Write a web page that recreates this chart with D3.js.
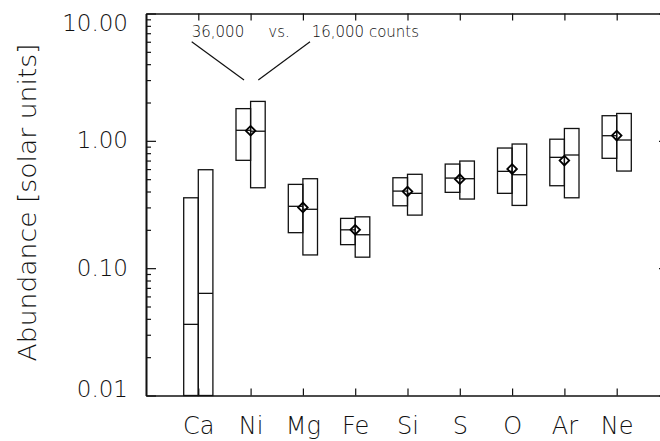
<!DOCTYPE html>
<html>
<head>
<meta charset="utf-8">
<script src="https://cdn.jsdelivr.net/npm/d3@7"></script>
<style>
  html, body { margin: 0; padding: 0; background: #fff; }
  svg { display: block; }
  text { font-family: "DejaVu Sans", sans-serif; fill: #111; }
</style>
</head>
<body>
<svg id="chart" width="660" height="441"></svg>
<script>
// ---- data ----
const categories = ["Ca", "Ni", "Mg", "Fe", "Si", "S", "O", "Ar", "Ne"];
// 36,000 counts (left boxes)
const hiCountLow  = [0.01,   0.703, 0.190, 0.153, 0.309, 0.394, 0.387, 0.444, 0.729];
const hiCountMed  = [0.0362, 1.21,  0.306, 0.200, 0.403, 0.510, 0.576, 0.742, 1.097];
const hiCountHigh = [0.357,  1.79,  0.455, 0.246, 0.513, 0.657, 0.878, 1.03,  1.575];
// 16,000 counts (right boxes)
const loCountLow  = [0.01,   0.428, 0.127, 0.122, 0.261, 0.349, 0.311, 0.357, 0.579];
const loCountMed  = [0.0634, 1.19,  0.290, 0.183, 0.387, 0.504, 0.542, 0.774, 1.015];
const loCountHigh = [0.593,  2.04,  0.504, 0.253, 0.546, 0.694, 0.944, 1.25,  1.64];
// true (input) abundances, diamonds
const trueValue = [null, 1.2, 0.30, 0.20, 0.40, 0.50, 0.60, 0.70, 1.10];
// axis ticks
const yMajorTicks = [0.01, 0.1, 1, 10];
const yMinorTicks = [0.02,0.03,0.04,0.05,0.06,0.07,0.08,0.09,
                     0.2,0.3,0.4,0.5,0.6,0.7,0.8,0.9,
                     2,3,4,5,6,7,8,9];
const yTitle = "Abundance [solar units]";
// annotation (data coordinates: x in category units, y in abundance)
const annoTexts = [
  {label: "36,000", x: 0.874, y: 6.54},
  {label: "vs.", x: 2.338, y: 6.54},
  {label: "16,000 counts", x: 3.168, y: 6.54}
];
const annoLines = [
  {x1: 0.874, y1: 6.0, x2: 1.874, y2: 3.0},
  {x1: 3.136, y1: 6.0, x2: 2.147, y2: 3.0}
];

// ---- layout ----
const L = 146, R = 669, T = 13.5, B = 395.5;
const svg = d3.select("#chart");
const x = d3.scaleLinear().domain([0, 10]).range([L, R]);
const y = d3.scaleLog().domain([0.01, 10]).range([B, T]);
const boxW = 14.6;
const axisColor = "#111";

const idx = d3.range(1, categories.length + 1);

// ---- axes ----
function styleAxis(g) {
  g.select(".domain").attr("stroke", axisColor).attr("stroke-width", 1.6);
  g.selectAll(".tick line").attr("stroke", axisColor).attr("stroke-width", 1.2);
}

// left major
const gLeft = svg.append("g").attr("transform", `translate(${L},0)`)
  .call(d3.axisLeft(y).tickValues(yMajorTicks).tickFormat(d3.format(".2f"))
    .tickSizeInner(-10).tickSizeOuter(0).tickPadding(18))
  .call(styleAxis);
gLeft.selectAll(".tick text")
  .attr("font-size", 23).attr("font-family", "DejaVu Sans").attr("fill", "#222")
  .attr("font-weight", 200)
  .attr("dy", (d) => d === 10 ? "0.72em" : (d === 0.01 ? "0.05em" : "0.30em"));
// left minor
svg.append("g").attr("transform", `translate(${L},0)`)
  .call(d3.axisLeft(y).tickValues(yMinorTicks).tickFormat("")
    .tickSizeInner(-5).tickSizeOuter(0))
  .call(styleAxis);
// right major/minor
svg.append("g").attr("transform", `translate(${R},0)`)
  .call(d3.axisRight(y).tickValues(yMajorTicks).tickFormat("")
    .tickSizeInner(-10).tickSizeOuter(0))
  .call(styleAxis);
svg.append("g").attr("transform", `translate(${R},0)`)
  .call(d3.axisRight(y).tickValues(yMinorTicks).tickFormat("")
    .tickSizeInner(-5).tickSizeOuter(0))
  .call(styleAxis);
// top
svg.append("g").attr("transform", `translate(0,${T})`)
  .call(d3.axisTop(x).tickValues(idx).tickFormat("")
    .tickSizeInner(-7).tickSizeOuter(0))
  .call(styleAxis);
// bottom
const gBottom = svg.append("g").attr("transform", `translate(0,${B})`)
  .call(d3.axisBottom(x).tickValues(idx).tickFormat((d) => categories[d - 1])
    .tickSizeInner(-7).tickSizeOuter(0).tickPadding(21.5))
  .call(styleAxis);
gBottom.selectAll(".tick text")
  .attr("font-size", 24).attr("font-family", "DejaVu Sans").attr("fill", "#222")
  .attr("font-weight", 200);

// y title
svg.append("text")
  .attr("transform", `translate(36,202.5) rotate(-90)`)
  .attr("text-anchor", "middle")
  .attr("font-size", 24).attr("font-weight", 200).attr("fill", "#222")
  .attr("textLength", 318).attr("lengthAdjust", "spacingAndGlyphs")
  .text(yTitle);

// ---- boxes ----
const plot = svg.append("g");
categories.forEach((c, i) => {
  const cx = x(i + 1);
  const sets = [
    {x0: cx - boxW, lo: hiCountLow[i], med: hiCountMed[i], hi: hiCountHigh[i]},
    {x0: cx,        lo: loCountLow[i], med: loCountMed[i], hi: loCountHigh[i]}
  ];
  sets.forEach((s) => {
    plot.append("rect")
      .attr("x", s.x0).attr("y", y(s.hi))
      .attr("width", boxW).attr("height", y(s.lo) - y(s.hi))
      .attr("fill", "none").attr("stroke", "#111").attr("stroke-width", 1.3);
    plot.append("line")
      .attr("x1", s.x0).attr("x2", s.x0 + boxW)
      .attr("y1", y(s.med)).attr("y2", y(s.med))
      .attr("stroke", "#111").attr("stroke-width", 1.3);
  });
  if (trueValue[i] != null) {
    plot.append("path")
      .attr("d", d3.symbol(d3.symbolSquare, 46)())
      .attr("transform", `translate(${cx},${y(trueValue[i])}) rotate(45)`)
      .attr("fill", "none").attr("stroke", "#000").attr("stroke-width", 1.8);
  }
});

// ---- annotation ----
annoTexts.forEach((a) => {
  svg.append("text")
    .attr("x", x(a.x)).attr("y", y(a.y))
    .attr("font-size", 15).attr("font-weight", 200).attr("fill", "#000")
    .text(a.label);
});
annoLines.forEach((l) => {
  svg.append("line")
    .attr("x1", x(l.x1)).attr("y1", y(l.y1))
    .attr("x2", x(l.x2)).attr("y2", y(l.y2))
    .attr("stroke", "#111").attr("stroke-width", 1.2);
});
</script>
</body>
</html>
